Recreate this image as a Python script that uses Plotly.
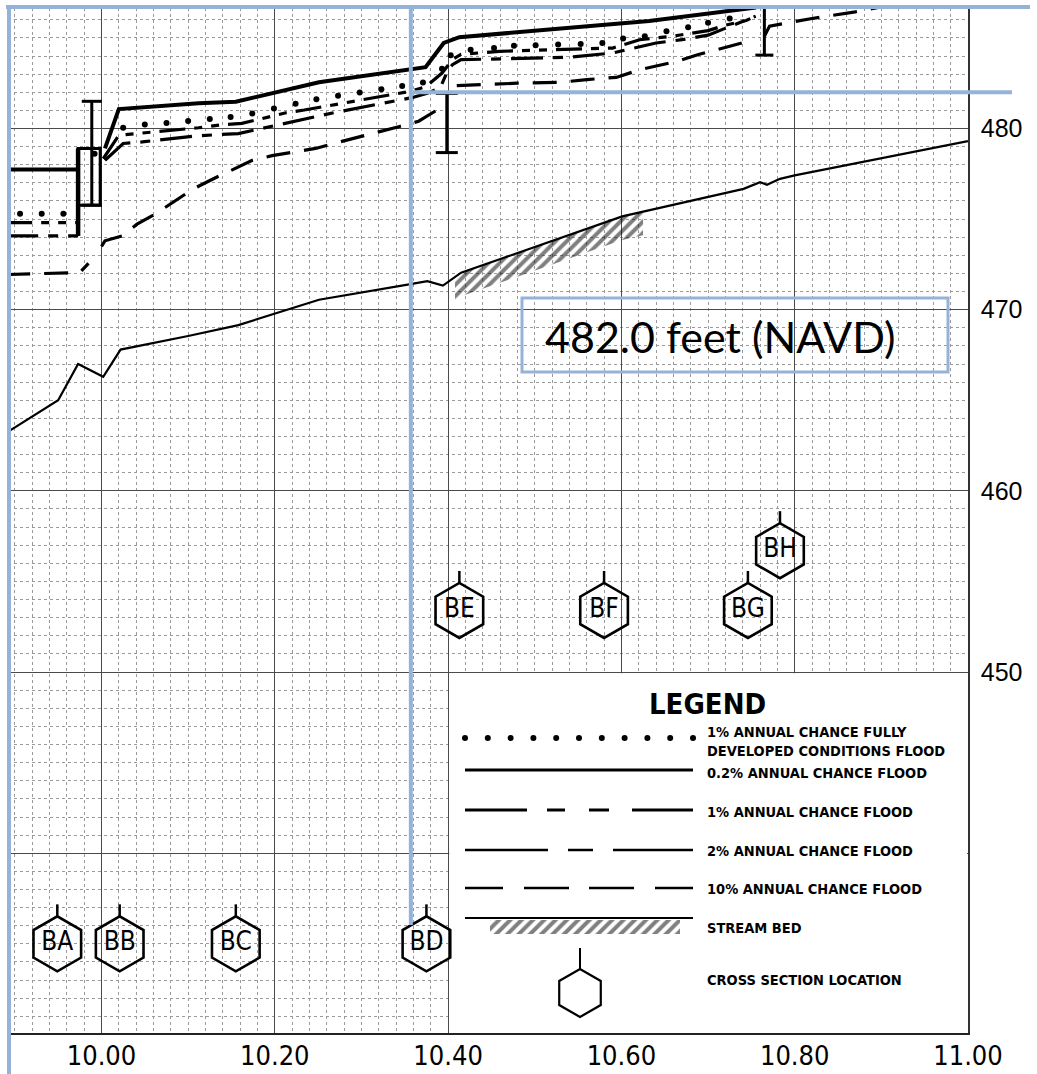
import numpy as np
import plotly.graph_objects as go

# ------------------------------------------------------------------ data
# axes: stream distance (miles) and elevation (feet NAVD)
x_tick_vals = [10.0, 10.2, 10.4, 10.6, 10.8, 11.0]
x_tick_text = ["10.00", "10.20", "10.40", "10.60", "10.80", "11.00"]
y_tick_vals = [440, 450, 460, 470, 480]
y_tick_text = ["", "450", "460", "470", "480"]

# stream bed
bed_x = [9.89, 9.95, 9.973, 10.002, 10.022, 10.10, 10.158, 10.20, 10.251, 10.355,
         10.376, 10.394, 10.415, 10.601, 10.741, 10.76, 10.768, 10.783, 10.80, 11.0]
bed_y = [463.2, 465.0, 467.0, 466.3, 467.8, 468.55, 469.15, 469.8, 470.55, 471.4,
         471.57, 471.33, 472.04, 475.15, 476.67, 477.04, 476.89, 477.22, 477.41, 479.3]

# 0.2% annual chance flood
p02_x = [9.89, 9.973, None, 10.004, 10.02, 10.112, 10.155, 10.251, 10.374, 10.395,
         10.413, 10.632, 10.754, 10.762]
p02_y = [477.74, 477.74, None, 478.9, 481.07, 481.39, 481.48, 482.55, 483.38, 484.72,
         485.04, 485.93, 486.67, 487.5]

# 1% annual chance flood
p1_x = [9.89, 9.973, None, 10.002, 10.02, 10.112, 10.136, 10.162, 10.185, 10.213,
        10.234, 10.355, 10.374, 10.393, 10.405, 10.415, 10.436, 10.459, 10.59, 10.621,
        10.66, 10.70, 10.72, 10.744, 10.755]
p1_y = [474.81, 474.81, None, 478.33, 479.63, 480.04, 480.19, 480.28, 480.56, 480.87,
        481.02, 482.04, 482.3, 483.06, 483.8, 484.1, 484.17, 484.26, 484.44, 484.9,
        485.1, 485.4, 485.7, 485.96, 486.2]

# 2% annual chance flood
p2_x = [9.89, 9.973, None, 10.004, 10.025, 10.047, 10.112, 10.158, 10.201, 10.22,
        10.247, 10.27, 10.358, 10.376, 10.391, 10.40, 10.405, 10.415, 10.47, 10.54,
        10.59, 10.64, 10.67, 10.70, 10.755]
p2_y = [474.07, 474.07, None, 478.24, 479.17, 479.26, 479.6, 479.72, 480.18, 480.37,
        480.65, 480.89, 481.7, 481.94, 482.26, 483.24, 483.52, 483.8, 483.85, 483.93,
        484.17, 484.72, 484.9, 485.15, 486.2]

# 10% annual chance flood
p10_x = [9.89, 9.975, 9.985, None, 10.0, 10.004, 10.024, 10.041, 10.062, 10.106,
         10.128, 10.166, 10.174, 10.197, 10.247, 10.27, 10.32, 10.343, 10.366, 10.39,
         None, 10.41, 10.44, 10.48, 10.53, 10.56, 10.594, 10.621, 10.667, 10.688,
         10.739, None, 10.765, 10.771, 10.80, 10.82, 10.87, 10.895, 10.95]
p10_y = [471.94, 472.05, 472.56, None, 473.5, 473.8, 474.07, 474.72, 475.28, 476.67,
         477.2, 478.1, 478.24, 478.5, 478.9, 479.2, 479.8, 480.1, 480.4, 481.1,
         None, 482.37, 482.44, 482.5, 482.55, 482.7, 482.82, 483.24, 483.74, 484.07,
         484.72, None, 485.09, 485.65, 485.9, 486.07, 486.44, 486.67, 487.1]

# 1% annual chance fully developed conditions flood (plotted as dots)
fd_x = [9.906, 9.931, 9.956, 9.992, 10.025, 10.05, 10.075, 10.10, 10.125, 10.149,
        10.174, 10.199, 10.224, 10.248, 10.273, 10.298, 10.323, 10.347, 10.371, 10.393,
        10.403, 10.426, 10.453, 10.476, 10.501, 10.527, 10.553, 10.578, 10.602, 10.627,
        10.652, 10.677, 10.700, 10.725]
fd_y = [475.3, 475.3, 475.3, 478.6, 480.04, 480.22, 480.31, 480.41, 480.52, 480.63,
        480.83, 481.11, 481.37, 481.61, 481.81, 481.99, 482.17, 482.35, 482.54, 483.3,
        484.04, 484.35, 484.44, 484.57, 484.59, 484.63, 484.67, 484.72, 484.96, 485.09,
        485.37, 485.59, 485.83, 486.07]

# cross sections
xs_names = ["BA", "BB", "BC", "BD", "BE", "BF", "BG", "BH"]
xs_x = [9.949, 10.021, 10.155, 10.375, 10.413, 10.580, 10.746, 10.783]
xs_y = [435.0, 435.0, 435.0, 435.0, 453.4, 453.4, 453.4, 456.7]

# structures (bridge / culvert symbols)
ibar_x = [9.9888, 10.3985, 10.765]
ibar_bottom = [475.77, 478.67, 484.05]
ibar_top = [481.5, 481.94, 488.0]
culvert_x = [9.973, 9.9985]
culvert_y = [475.77, 478.9]
wall_x = 9.973
wall_y = [474.07, 478.9]

# stream bed hatch extent
hatch_x = [10.408, 10.625]

# highlighted elevation
mark_station = 10.357
mark_elev = 482.0
mark_label = "482.0 feet (NAVD)"

legend_labels = [
    "1% ANNUAL CHANCE FULLY<br>DEVELOPED CONDITIONS FLOOD",
    "0.2% ANNUAL CHANCE FLOOD",
    "1% ANNUAL CHANCE FLOOD",
    "2% ANNUAL CHANCE FLOOD",
    "10% ANNUAL CHANCE FLOOD",
    "STREAM BED",
    "CROSS SECTION LOCATION",
]

# ------------------------------------------------------------------ layout constants
W, H = 1037, 1074
PL, PR, PT, PB = 8, 968, 8, 1033
X_RANGE = [9.8921, 11.0]
Y_RANGE = [430.08, 486.65]
PX_PER_MI = (PR - PL) / (X_RANGE[1] - X_RANGE[0])
PX_PER_FT = (PB - PT) / (Y_RANGE[1] - Y_RANGE[0])

DASH_1 = "26px,9px,8px,9px,8px,9px"
DASH_2 = "32px,10px,10px,10px"
DASH_10 = "24px,14px"
BLUE = "#95B3D7"
COND = "DejaVu Sans Condensed, Liberation Sans Narrow, Arial Narrow, sans-serif"
HATCH = dict(shape="/", size=8, solidity=0.5, fgcolor="black")


def paper_x(px):
    return (px - PL) / (PR - PL)


def paper_y(py):
    return (PB - py) / (PB - PT)


def data_to_paper_x(v):
    return (v - X_RANGE[0]) / (X_RANGE[1] - X_RANGE[0])


def data_to_paper_y(v):
    return (v - Y_RANGE[0]) / (Y_RANGE[1] - Y_RANGE[0])


fig = go.Figure()

# ---- stream bed hatch
hx = [hatch_x[0]] + [x for x in bed_x if hatch_x[0] < x < hatch_x[1]] + [hatch_x[1]]
htop = np.interp(hx, bed_x, bed_y)
hbot = htop - 1.3
fig.add_trace(go.Scatter(
    x=hx + hx[::-1], y=list(htop) + list(hbot[::-1]), mode="lines", fill="toself",
    fillcolor="rgba(0,0,0,0)", line=dict(width=0), fillpattern=HATCH,
    hoverinfo="skip"))

# ---- stream bed
fig.add_trace(go.Scatter(x=bed_x, y=bed_y, mode="lines",
                         line=dict(color="black", width=2.2)))

# ---- flood profiles
fig.add_trace(go.Scatter(x=p10_x, y=p10_y, mode="lines", connectgaps=False,
                         line=dict(color="black", width=3.2, dash=DASH_10)))
fig.add_trace(go.Scatter(x=p2_x, y=p2_y, mode="lines", connectgaps=False,
                         line=dict(color="black", width=3.2, dash=DASH_2)))
fig.add_trace(go.Scatter(x=p1_x, y=p1_y, mode="lines", connectgaps=False,
                         line=dict(color="black", width=3.2, dash=DASH_1)))
fig.add_trace(go.Scatter(x=p02_x, y=p02_y, mode="lines", connectgaps=False,
                         line=dict(color="black", width=4)))
fig.add_trace(go.Scatter(x=fd_x, y=fd_y, mode="markers",
                         marker=dict(color="black", size=6, symbol="circle")))

# ---- structures
sx, sy = [], []
cap_half = [10 / PX_PER_MI, 11 / PX_PER_MI, 9 / PX_PER_MI]
for xb, yb, yt, ch in zip(ibar_x, ibar_bottom, ibar_top, cap_half):
    sx += [xb, xb, None, xb - ch, xb + ch, None, xb - ch, xb + ch, None]
    sy += [yb, yt, None, yt, yt, None, yb, yb, None]
sx += [culvert_x[0], culvert_x[1], culvert_x[1], culvert_x[0], culvert_x[0], None]
sy += [culvert_y[0], culvert_y[0], culvert_y[1], culvert_y[1], culvert_y[0], None]
fig.add_trace(go.Scatter(x=sx, y=sy, mode="lines", connectgaps=False,
                         line=dict(color="black", width=3)))
fig.add_trace(go.Scatter(x=[wall_x, wall_x], y=wall_y, mode="lines",
                         line=dict(color="black", width=4.5)))

# ---- cross-section hexagons
HEX = 55
stem_x, stem_y = [], []
for x, y in zip(xs_x, xs_y):
    stem_x += [x, x, None]
    stem_y += [y + (HEX / 2) / PX_PER_FT, y + (HEX / 2 + 12) / PX_PER_FT, None]
fig.add_trace(go.Scatter(x=stem_x, y=stem_y, mode="lines",
                         line=dict(color="black", width=2.5)))
fig.add_trace(go.Scatter(
    x=xs_x, y=xs_y, mode="markers+text", text=xs_names, textposition="middle center",
    textfont=dict(family=COND, size=26, color="black"),
    marker=dict(symbol="hexagon-open", size=HEX, color="black", line=dict(width=2.6, color="black"))))

# ---- legend drawing (pixel coordinates on overlay axes)
LX0, LX1 = 465, 693
fig.add_trace(go.Scatter(x=list(np.linspace(LX0, LX1, 11)), y=[738] * 11, mode="markers",
                         marker=dict(color="black", size=6), xaxis="x2", yaxis="y2"))
for yy, dash, wdt in [(770, "solid", 3), (810, "62px,20px,18px,24px,20px,23px,90px", 3),
                      (850, "83px,20px,25px,20px,90px", 2.6),
                      (888, "38px,21px,45px,20px,45px,21px,50px", 2.6), (918, "solid", 2)]:
    fig.add_trace(go.Scatter(x=[LX0, LX1], y=[yy, yy], mode="lines",
                             line=dict(color="black", width=wdt, dash=dash),
                             xaxis="x2", yaxis="y2"))
fig.add_trace(go.Scatter(
    x=[490, 680, 680, 490, 490], y=[920, 920, 934, 934, 920], mode="lines", fill="toself",
    fillcolor="rgba(0,0,0,0)", line=dict(width=0), fillpattern=HATCH,
    xaxis="x2", yaxis="y2"))
fig.add_trace(go.Scatter(x=[580, 580], y=[948, 970], mode="lines",
                         line=dict(color="black", width=2), xaxis="x2", yaxis="y2"))
fig.add_trace(go.Scatter(x=[580], y=[993], mode="markers",
                         marker=dict(symbol="hexagon-open", size=48, color="black",
                                     line=dict(width=2.2, color="black")),
                         xaxis="x2", yaxis="y2"))

annotations = [dict(x=707, y=704, xref="x2", yref="y2", text="<b>LEGEND</b>", showarrow=False,
                    font=dict(family=COND, size=29, color="black"),
                    xanchor="center", yanchor="middle")]
leg_text_y = [741, 773, 812, 851, 889, 928, 980]
for lab, ty in zip(legend_labels, leg_text_y):
    annotations.append(dict(x=705, y=ty, xref="x2", yref="y2",
                            text="<b>" + lab.replace("<br>", "</b><br><b>") + "</b>",
                            showarrow=False, align="left",
                            font=dict(family=COND, size=14.5, color="black"),
                            xanchor="left", yanchor="middle"))
annotations.append(dict(x=paper_x(543), y=paper_y(337), xref="paper", yref="paper",
                        text=mark_label, showarrow=False,
                        font=dict(family="Lato", size=43, color="black"),
                        xanchor="left", yanchor="middle"))

# ---- shapes
mx = data_to_paper_x(mark_station)
my = data_to_paper_y(mark_elev)
shapes = [
    # white legend panel
    dict(type="rect", xref="x", yref="y", layer="between",
         x0=10.4 + 1.2 / PX_PER_MI, x1=11.0 - 1 / PX_PER_MI,
         y0=Y_RANGE[0], y1=450 - 1.2 / PX_PER_FT,
         fillcolor="white", line=dict(width=0)),
    # overlay blue marker lines
    dict(type="line", xref="paper", yref="paper", x0=paper_x(9), x1=paper_x(9),
         y0=paper_y(1074), y1=paper_y(5), line=dict(color=BLUE, width=4), layer="above"),
    dict(type="line", xref="paper", yref="paper", x0=paper_x(6), x1=paper_x(1030),
         y0=paper_y(7), y1=paper_y(7), line=dict(color=BLUE, width=4), layer="above"),
    dict(type="line", xref="paper", yref="paper", x0=mx, x1=mx,
         y0=paper_y(925), y1=paper_y(7), line=dict(color=BLUE, width=4), layer="above"),
    dict(type="line", xref="paper", yref="paper", x0=mx, x1=paper_x(1012),
         y0=my, y1=my, line=dict(color=BLUE, width=4), layer="above"),
    dict(type="rect", xref="paper", yref="paper", x0=paper_x(522), x1=paper_x(948),
         y0=paper_y(372), y1=paper_y(298), line=dict(color=BLUE, width=3), layer="above"),
]

fig.update_layout(
    width=W, height=H,
    margin=dict(l=PL, r=W - PR, t=PT, b=H - PB, pad=0, autoexpand=False),
    paper_bgcolor="white", plot_bgcolor="white",
    showlegend=False,
    xaxis=dict(range=X_RANGE, tickmode="array", tickvals=x_tick_vals, ticktext=x_tick_text,
               automargin=False,
               showgrid=True, gridcolor="#4a4a4a", gridwidth=1.3, zeroline=False,
               minor=dict(tickmode="linear", tick0=10.0, dtick=0.02, showgrid=True,
                          gridcolor="#9a9a9a", griddash="dot", gridwidth=1),
               showline=True, linecolor="#222222", linewidth=2, ticks="",
               tickfont=dict(family=COND, size=27, color="black"), ticklabelstandoff=-2),
    yaxis=dict(range=Y_RANGE, side="right", tickmode="array", tickvals=y_tick_vals,
               ticktext=y_tick_text, showgrid=True, gridcolor="#4a4a4a", gridwidth=1.3,
               zeroline=False, automargin=False,
               minor=dict(tickmode="linear", tick0=440, dtick=1, showgrid=True,
                          gridcolor="#9a9a9a", griddash="dot", gridwidth=1),
               showline=True, linecolor="#333333", linewidth=1.5, ticks="",
               tickfont=dict(family="Liberation Sans", size=25, color="black"),
               ticklabelstandoff=6),
    xaxis2=dict(overlaying="x", range=[PL, PR], visible=False, fixedrange=True),
    yaxis2=dict(overlaying="y", range=[PB, PT], visible=False, fixedrange=True),
    annotations=annotations,
    shapes=shapes,
)

fig.write_html("out.html", config={"displayModeBar": False},
               post_script="document.body.style.margin='0px';")
